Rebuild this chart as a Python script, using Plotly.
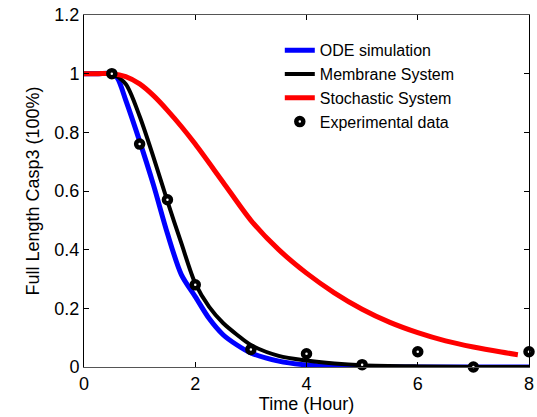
import plotly.graph_objects as go

# Time (hours) and values
ode_t = [0, 0.25, 0.5, 0.6, 0.75, 1.0, 1.25, 1.5, 1.75, 2.0, 2.25, 2.5, 2.75, 3.0, 3.5, 4.0, 4.5, 5.0, 6.0, 7.0, 8.0]
ode_y = [1.0, 1.0, 1.0, 0.985, 0.91, 0.77, 0.62, 0.455, 0.315, 0.24, 0.165, 0.11, 0.075, 0.048, 0.02, 0.007, 0.002, 0.0, 0.0, 0.0, 0.0]

mem_t = [0, 0.25, 0.5, 0.75, 1.0, 1.25, 1.5, 1.75, 2.0, 2.25, 2.5, 2.75, 3.0, 3.5, 4.0, 4.5, 5.0, 6.0, 7.0, 8.0]
mem_y = [1.0, 1.0, 1.0, 0.965, 0.855, 0.715, 0.565, 0.422, 0.285, 0.205, 0.15, 0.11, 0.075, 0.038, 0.022, 0.012, 0.006, 0.002, 0.0, 0.0]

sto_t = [0, 0.25, 0.5, 0.75, 1.0, 1.25, 1.5, 1.75, 2.0, 2.5, 3.0, 3.5, 4.0, 4.5, 5.0, 5.5, 6.0, 6.5, 7.0, 7.5, 7.8]
sto_y = [1.0, 1.0, 1.0, 0.99, 0.965, 0.925, 0.875, 0.82, 0.76, 0.63, 0.50, 0.40, 0.32, 0.253, 0.197, 0.152, 0.117, 0.089, 0.068, 0.051, 0.042]

exp_t = [0.5, 1, 1.5, 2, 3, 4, 5, 6, 7, 8]
exp_y = [1.0, 0.76, 0.57, 0.28, 0.06, 0.045, 0.008, 0.052, 0.0, 0.052]

x_ticks = [0, 2, 4, 6, 8]
y_ticks = [0, 0.2, 0.4, 0.6, 0.8, 1.0, 1.2]
y_tick_labels = ["0", "0.2", "0.4", "0.6", "0.8", "1", "1.2"]

FONT = "Arial, Liberation Sans, Helvetica, sans-serif"

fig = go.Figure()
fig.add_trace(go.Scatter(x=ode_t, y=ode_y, mode="lines", name="ODE simulation",
                         line=dict(color="#0000ff", width=5, shape="spline", smoothing=0.8)))
fig.add_trace(go.Scatter(x=mem_t, y=mem_y, mode="lines", name="Membrane System",
                         line=dict(color="#000000", width=4, shape="spline", smoothing=0.8)))
fig.add_trace(go.Scatter(x=sto_t, y=sto_y, mode="lines", name="Stochastic System",
                         line=dict(color="#ff0000", width=5, shape="spline", smoothing=0.8)))
fig.add_trace(go.Scatter(x=exp_t, y=exp_y, mode="markers", name="Experimental data",
                         marker=dict(symbol="circle", size=7, color="white",
                                     line=dict(color="black", width=4.5)),
                         cliponaxis=False))

fig.update_layout(
    width=537, height=417,
    margin=dict(l=84, r=8, t=15, b=50, autoexpand=False),
    paper_bgcolor="white", plot_bgcolor="white",
    font=dict(family=FONT, size=17, color="black"),
    showlegend=True,
    legend=dict(x=0.44, y=0.948, xanchor="left", yanchor="top",
                bgcolor="rgba(0,0,0,0)", borderwidth=0,
                font=dict(family=FONT, size=16, color="black"),
                tracegroupgap=0, itemwidth=30),
    xaxis=dict(range=[0, 8], tickvals=x_ticks, ticktext=[str(v) for v in x_ticks],
               automargin=False, ticklabeloverflow="allow",
               showgrid=False, zeroline=False, showline=True, linecolor="#555555", linewidth=1,
               mirror="ticks", ticks="inside", ticklen=5, tickcolor="black",
               title=dict(text="Time (Hour)", font=dict(family=FONT, size=18), standoff=2),
               tickfont=dict(family=FONT, size=18)),
    yaxis=dict(range=[0, 1.2], tickvals=y_ticks, ticktext=y_tick_labels,
               automargin=False, ticklabeloverflow="allow",
               showgrid=False, zeroline=False, showline=True, linecolor="black", linewidth=1,
               mirror="ticks", ticks="inside", ticklen=5, tickcolor="black",
               title=dict(text="Full Length Casp3 (100%)", font=dict(family=FONT, size=18), standoff=10),
               tickfont=dict(family=FONT, size=18)),
)

# Remove the browser's default 8 px body margin so the figure fills the window exactly.
fig.write_html("out.html", config={"displayModeBar": False},
               post_script="document.body.style.margin='0px';")
